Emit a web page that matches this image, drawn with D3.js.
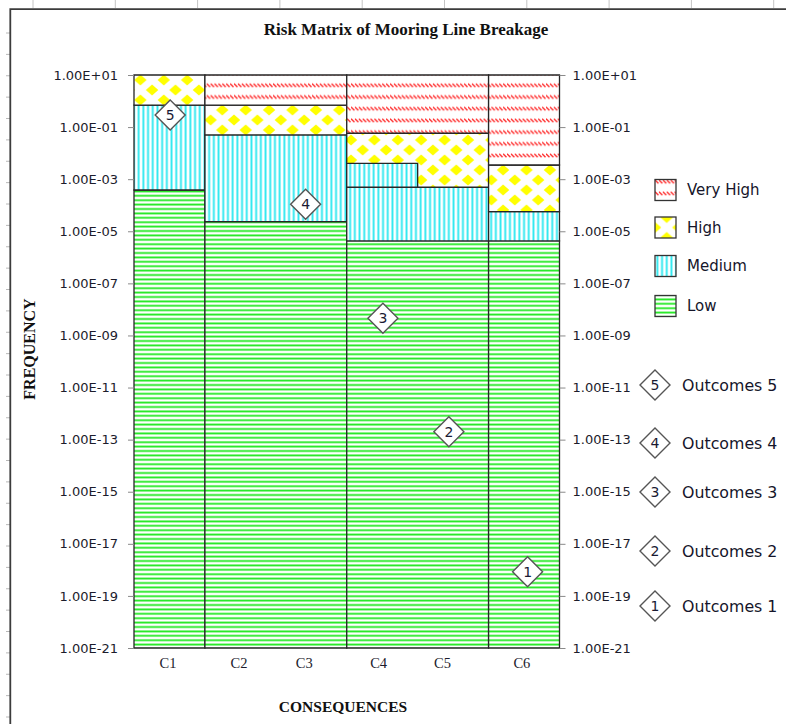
<!DOCTYPE html>
<html>
<head>
<meta charset="utf-8">
<script src="https://cdnjs.cloudflare.com/ajax/libs/d3/7.8.5/d3.min.js"></script>
<style>
  body { margin: 0; background: #ffffff; }
  svg { display: block; }
</style>
</head>
<body>
<svg id="chart" width="786" height="724"></svg>
<script>
// ---- data -----------------------------------------------------------
const categories = ["C1", "C2", "C3", "C4", "C5", "C6"];
// where each consequence label sits along the category axis (category units)
const categoryAt = [0.48, 1.48, 2.40, 3.45, 4.35, 5.47];
// consequences that share one outlined column
const consequenceGroups = [["C1"], ["C2", "C3"], ["C4", "C5"], ["C6"]];

const frequencyTicks = [1e1, 1e-1, 1e-3, 1e-5, 1e-7, 1e-9, 1e-11, 1e-13, 1e-15, 1e-17, 1e-19, 1e-21];
const frequencyFloor = 1e-21;

// upper frequency bound of each risk band, per consequence (stacked from the floor)
const lowTop         = [3.85e-4, 2.34e-5, 2.34e-5, 4.25e-6, 4.25e-6, 4.25e-6];
const mediumTop      = [0.70,    0.050,   0.050,   4.9e-4,  4.9e-4,  5.65e-5];
const mediumUpperTop = [0.70,    0.050,   0.050,   4.07e-3, 4.9e-4,  5.65e-5];
const highTop        = [10,      0.70,    0.70,    0.058,   0.058,   3.5e-3];
const veryHighTop    = [10,      10,      10,      10,      10,      10];

const riskLevels = ["Very High", "High", "Medium", "Low"];

// assessed outcomes: position on the consequence axis and frequency
const outcomeIds  = [1, 2, 3, 4, 5];
const outcomeX    = [5.55, 4.44, 3.51, 2.42, 0.51];
const outcomeFreq = [8.5e-19, 2.0e-13, 4.6e-9, 1.1e-4, 0.29];

// ---- layout ---------------------------------------------------------
const svg = d3.select("#chart");
const plot = { left: 134, right: 559.5, top: 75, bottom: 648 };

const x = d3.scaleLinear().domain([0, categories.length]).range([plot.left, plot.right]);
const y = d3.scaleLog().domain([frequencyFloor, 10]).range([plot.bottom, plot.top]);

const sans = "'DejaVu Sans', Verdana, sans-serif";
const serif = "'Liberation Serif', 'Times New Roman', serif";

// ---- fill patterns --------------------------------------------------
const defs = svg.append("defs");

const pLow = defs.append("pattern").attr("id", "p-low")
  .attr("patternUnits", "userSpaceOnUse").attr("width", 8).attr("height", 4.4);
pLow.append("rect").attr("width", 8).attr("height", 4.4).attr("fill", "#ffffff");
pLow.append("line").attr("x1", 0).attr("x2", 8).attr("y1", 2.2).attr("y2", 2.2)
  .attr("stroke", "#1ee81e").attr("stroke-width", 1.8);

const pMed = defs.append("pattern").attr("id", "p-medium")
  .attr("patternUnits", "userSpaceOnUse").attr("width", 4.7).attr("height", 8);
pMed.append("rect").attr("width", 4.7).attr("height", 8).attr("fill", "#ffffff");
pMed.append("line").attr("x1", 2.35).attr("x2", 2.35).attr("y1", 0).attr("y2", 8)
  .attr("stroke", "#2ee8f0").attr("stroke-width", 1.9);

const hw = 23.4, hh = 20;
const pHigh = defs.append("pattern").attr("id", "p-high")
  .attr("patternUnits", "userSpaceOnUse").attr("width", hw).attr("height", hh);
pHigh.append("rect").attr("width", hw).attr("height", hh).attr("fill", "#ffffff");
[[0, 0], [hw, 0], [0, hh], [hw, hh], [hw / 2, hh / 2]].forEach(([cx, cy]) => {
  pHigh.append("path")
    .attr("d", `M${cx},${cy - 5.4}L${cx + 6.2},${cy}L${cx},${cy + 5.4}L${cx - 6.2},${cy}Z`)
    .attr("fill", "#ffff00");
});

const pVH = defs.append("pattern").attr("id", "p-veryhigh")
  .attr("patternUnits", "userSpaceOnUse").attr("width", 3.9).attr("height", 11.7);
pVH.append("rect").attr("width", 3.9).attr("height", 11.7).attr("fill", "#ffffff");
pVH.append("line").attr("x1", 0).attr("y1", 1.8).attr("x2", 3.4).attr("y2", 5.2)
  .attr("stroke", "#ff2a2a").attr("stroke-width", 1.4);

const fillOf = {
  "Low": "url(#p-low)",
  "Medium": "url(#p-medium)",
  "High": "url(#p-high)",
  "Very High": "url(#p-veryhigh)"
};

// ---- sheet frame ----------------------------------------------------
const frame = svg.append("g");
d3.range(33, 786, 82.3).forEach(gx => {
  frame.append("line").attr("x1", gx).attr("x2", gx).attr("y1", 0).attr("y2", 8)
    .attr("stroke", "#c4c4c4").attr("stroke-width", 1);
});
d3.range(33, 724, 21.375).forEach(gy => {
  frame.append("line").attr("x1", 6).attr("x2", 10).attr("y1", gy).attr("y2", gy)
    .attr("stroke", "#b8b8b8").attr("stroke-width", 1);
});
frame.append("path").attr("d", "M10.3,724V9.2H786")
  .attr("fill", "none").attr("stroke", "#3c3c3c").attr("stroke-width", 1.8);

// ---- risk regions ---------------------------------------------------
const stackSeries = [
  { level: "Low", tops: lowTop },
  { level: "Medium", tops: mediumTop },
  { level: "Medium", tops: mediumUpperTop },
  { level: "High", tops: highTop },
  { level: "Very High", tops: veryHighTop }
];

const shapes = [];
stackSeries.forEach((s, si) => {
  const bottoms = si === 0 ? categories.map(() => frequencyFloor) : stackSeries[si - 1].tops;
  consequenceGroups.forEach(group => {
    const idx = group.map(c => categories.indexOf(c));
    if (idx.every(i => s.tops[i] <= bottoms[i])) return;
    const pts = [];
    idx.forEach(i => { pts.push([i, s.tops[i]], [i + 1, s.tops[i]]); });
    idx.slice().reverse().forEach(i => { pts.push([i + 1, bottoms[i]], [i, bottoms[i]]); });
    shapes.push({ level: s.level, pts });
  });
});

const stepLine = d3.line().x(d => x(d[0])).y(d => y(d[1]));

svg.append("g").selectAll("path").data(shapes).join("path")
  .attr("d", d => stepLine(d.pts) + "Z")
  .attr("fill", d => fillOf[d.level])
  .attr("stroke", "#262626")
  .attr("stroke-width", 1.3)
  .attr("stroke-linejoin", "miter");

// ---- axes -----------------------------------------------------------
const fmtE = d => {
  const [m, e] = d.toExponential(2).split("e");
  const n = Math.abs(+e);
  return `${m}E${+e < 0 ? "-" : "+"}${n < 10 ? "0" + n : n}`;
};

function styleAxis(g) {
  g.select(".domain").remove();
  g.selectAll(".tick line").attr("stroke", "#8a8a8a");
  g.selectAll(".tick text").attr("fill", "#1c1c2c")
    .style("font-family", sans).style("font-size", "13px");
}

svg.append("g").attr("transform", `translate(${plot.left},0)`)
  .call(d3.axisLeft(y).tickValues(frequencyTicks).tickFormat(fmtE).tickSize(6).tickPadding(10))
  .call(styleAxis);

svg.append("g").attr("transform", `translate(${plot.right},0)`)
  .call(d3.axisRight(y).tickValues(frequencyTicks).tickFormat(fmtE).tickSize(6).tickPadding(7))
  .call(styleAxis);

svg.append("g").selectAll("text").data(categories).join("text")
  .attr("x", (d, i) => x(categoryAt[i]))
  .attr("y", plot.bottom + 20)
  .attr("text-anchor", "middle")
  .style("font-family", serif).style("font-size", "14.5px")
  .attr("fill", "#1c1c2c")
  .text(d => d);

// ---- outcome markers ------------------------------------------------
const diamond = r => `M0,${-r}L${r},0L0,${r}L${-r},0Z`;

function drawMarker(g, label) {
  g.append("path").attr("d", diamond(15))
    .attr("fill", "#ffffff").attr("stroke", "#555555").attr("stroke-width", 1.4);
  g.append("text").attr("text-anchor", "middle").attr("dy", "0.36em")
    .style("font-family", sans).style("font-size", "14px")
    .attr("fill", "#1a1a33").text(label);
}

svg.append("g").selectAll("g").data(outcomeIds).join("g")
  .attr("transform", (d, i) => `translate(${x(outcomeX[i])},${y(outcomeFreq[i])})`)
  .each(function (d) { drawMarker(d3.select(this), d); });

// ---- titles ---------------------------------------------------------
svg.append("text").attr("x", 406).attr("y", 29).attr("dy", "0.35em")
  .attr("text-anchor", "middle")
  .style("font-family", serif).style("font-size", "17px").style("font-weight", "bold")
  .attr("fill", "#111111")
  .text("Risk Matrix of Mooring Line Breakage");

svg.append("text")
  .attr("transform", "translate(29,349) rotate(-90)")
  .attr("dy", "0.35em").attr("text-anchor", "middle")
  .style("font-family", serif).style("font-size", "16px").style("font-weight", "bold")
  .attr("fill", "#111111")
  .text("FREQUENCY");

svg.append("text").attr("x", 343).attr("y", 707).attr("dy", "0.35em")
  .attr("text-anchor", "middle")
  .style("font-family", serif).style("font-size", "15.5px").style("font-weight", "bold")
  .attr("fill", "#111111")
  .text("CONSEQUENCES");

// ---- legends --------------------------------------------------------
const legendRows = [190, 227.5, 266, 306];
const riskLegend = svg.append("g").selectAll("g").data(riskLevels).join("g")
  .attr("transform", (d, i) => `translate(655,${legendRows[i]})`);
riskLegend.append("rect").attr("x", 0).attr("y", -10.5).attr("width", 21).attr("height", 21)
  .attr("fill", d => fillOf[d]).attr("stroke", "#333333").attr("stroke-width", 1.3);
riskLegend.append("text").attr("x", 32).attr("dy", "0.36em")
  .style("font-family", sans).style("font-size", "15px")
  .attr("fill", "#15152a").text(d => d);

const outcomeRows = { 5: 385, 4: 443, 3: 492, 2: 551, 1: 606 };
const outcomeLegend = svg.append("g").selectAll("g")
  .data(outcomeIds.slice().reverse()).join("g")
  .attr("transform", d => `translate(655,${outcomeRows[d]})`);
outcomeLegend.each(function (d) { drawMarker(d3.select(this), d); });
outcomeLegend.append("text").attr("x", 27).attr("dy", "0.36em")
  .style("font-family", sans).style("font-size", "15.8px")
  .attr("fill", "#15152a").text(d => `Outcomes ${d}`);
</script>
</body>
</html>
